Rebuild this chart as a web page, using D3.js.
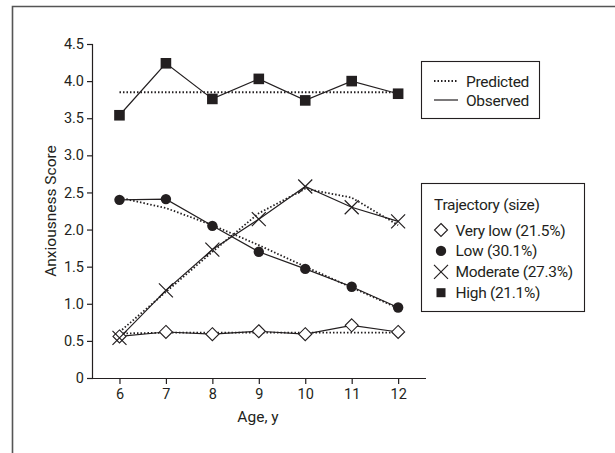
<!DOCTYPE html>
<html>
<head>
<meta charset="utf-8">
<script src="https://cdn.jsdelivr.net/npm/d3@7"></script>
<style>
body { margin: 0; background: #fff; }
text { font-family: Roboto, "DejaVu Sans Condensed", sans-serif; fill: #231f20; }
</style>
</head>
<body>
<svg id="chart"></svg>
<script>
// data
var ages = [6, 7, 8, 9, 10, 11, 12];
var yTicks = [0, 0.5, 1.0, 1.5, 2.0, 2.5, 3.0, 3.5, 4.0, 4.5];

var veryLowObs = [0.56, 0.62, 0.59, 0.63, 0.59, 0.71, 0.62];
var veryLowPred = [0.60, 0.61, 0.61, 0.61, 0.61, 0.61, 0.61];
var lowObs = [2.40, 2.41, 2.05, 1.70, 1.47, 1.23, 0.95];
var lowPred = [2.43, 2.29, 2.06, 1.79, 1.50, 1.22, 0.94];
var modObs = [0.54, 1.18, 1.73, 2.14, 2.58, 2.30, 2.11];
var modPred = [0.62, 1.16, 1.70, 2.22, 2.55, 2.43, 2.06];
var highObs = [3.54, 4.24, 3.76, 4.03, 3.74, 4.00, 3.83];
var highPred = [3.85, 3.85, 3.85, 3.85, 3.85, 3.85, 3.85];

var groups = [
  { name: "Very low (21.5%)", sym: "diamond", obs: veryLowObs, pred: veryLowPred },
  { name: "Low (30.1%)", sym: "circle", obs: lowObs, pred: lowPred },
  { name: "Moderate (27.3%)", sym: "cross", obs: modObs, pred: modPred },
  { name: "High (21.1%)", sym: "square", obs: highObs, pred: highPred }
];

// basic settings
var svgWidth = 615, svgHeight = 453;
var ink = "#231f20";
var plotLeft = 93, plotRight = 426, plotTop = 44, plotBottom = 378;

var svg = d3.select('#chart')
  .attr('width', svgWidth)
  .attr('height', svgHeight);

// frame (right and bottom edges fall outside the picture)
svg.append('path')
  .attr('d', "M12.5," + svgHeight + "V6.5H" + svgWidth)
  .attr('fill', 'none')
  .attr('stroke', '#555')
  .attr('stroke-width', 1.6);

var x = d3.scaleLinear().domain([5.43, 12.6]).range([plotLeft, plotRight]);
var y = d3.scaleLinear().domain([0, 4.5]).range([plotBottom, plotTop]);

var yAxis = d3.axisLeft(y)
  .tickValues(yTicks)
  .tickSize(6)
  .tickPadding(3)
  .tickFormat(function(d) { return d === 0 ? "0" : d3.format(".1f")(d); });

var xAxis = d3.axisBottom(x)
  .tickValues(ages)
  .tickSize(6)
  .tickPadding(5)
  .tickSizeOuter(0);

var gy = svg.append('g')
  .attr('transform', "translate(" + plotLeft + ",0)")
  .call(yAxis);
gy.select('.domain').attr('d', "M-0.5," + (plotBottom + 0.5) + "V" + plotTop);

var gx = svg.append('g')
  .attr('transform', "translate(0," + plotBottom + ")")
  .call(xAxis);
gx.select('.domain').attr('d', "M" + plotLeft + ",0.5H" + plotRight);

svg.selectAll('.tick text')
  .attr('font-size', 14.5)
  .attr('fill', ink)
  .style('font-family', 'Roboto, sans-serif');
svg.selectAll('.domain, .tick line')
  .attr('stroke', ink)
  .attr('stroke-width', 1.2);

// axis titles
svg.append('text')
  .attr('x', 258)
  .attr('y', 422)
  .attr('text-anchor', 'middle')
  .attr('font-size', 15.5)
  .text("Age, y");

svg.append('text')
  .attr('transform', "translate(56," + ((plotTop + plotBottom) / 2) + ") rotate(-90)")
  .attr('text-anchor', 'middle')
  .attr('font-size', 15.5)
  .text("Anxiousness Score");

// lines
var line = d3.line()
  .x(function(d, i) { return x(ages[i]); })
  .y(function(d) { return y(d); });

groups.forEach(function(g) {
  svg.append('path')
    .attr('d', line(g.pred))
    .attr('fill', 'none')
    .attr('stroke', ink)
    .attr('stroke-width', 1.8)
    .attr('stroke-dasharray', "1.5,2");
  svg.append('path')
    .attr('d', line(g.obs))
    .attr('fill', 'none')
    .attr('stroke', ink)
    .attr('stroke-width', 1.2);
});

// markers
function drawSymbol(sel, sym) {
  if (sym === "diamond") {
    sel.append('path')
      .attr('d', "M0,-6.5L6.5,0L0,6.5L-6.5,0Z")
      .attr('fill', '#fff').attr('stroke', ink).attr('stroke-width', 1.1);
  } else if (sym === "circle") {
    sel.append('circle').attr('r', 5.2).attr('fill', ink);
  } else if (sym === "cross") {
    sel.append('path')
      .attr('d', "M-7,-7L7,7M7,-7L-7,7")
      .attr('stroke', ink).attr('stroke-width', 1.2).attr('fill', 'none');
  } else {
    sel.append('rect')
      .attr('x', -5.3).attr('y', -5.3).attr('width', 10.6).attr('height', 10.6)
      .attr('fill', ink);
  }
}

groups.forEach(function(g) {
  svg.append('g').selectAll('g')
    .data(g.obs)
    .enter()
    .append('g')
    .attr('transform', function(d, i) {
      return "translate(" + [x(ages[i]), y(d)] + ")";
    })
    .each(function() { drawSymbol(d3.select(this), g.sym); });
});

// legend 1: line styles
var leg1 = svg.append('g').attr('transform', "translate(421,61)");
leg1.append('rect')
  .attr('x', 0.5).attr('y', 0.5).attr('width', 118).attr('height', 57)
  .attr('fill', '#fff').attr('stroke', ink).attr('stroke-width', 1.1);
[["Predicted", "1.5,2", 1.8], ["Observed", null, 1.2]].forEach(function(r, i) {
  var yy = 20 + i * 19;
  leg1.append('line')
    .attr('x1', 13).attr('x2', 37).attr('y1', yy).attr('y2', yy)
    .attr('stroke', ink).attr('stroke-width', r[2])
    .attr('stroke-dasharray', r[1]);
  leg1.append('text')
    .attr('x', 45).attr('y', yy + 5.5)
    .attr('font-size', 15.5)
    .attr('letter-spacing', -0.3)
    .text(r[0]);
});

// legend 2: trajectories
var leg2 = svg.append('g').attr('transform', "translate(421,183)");
leg2.append('rect')
  .attr('x', 0.5).attr('y', 0.5).attr('width', 163).attr('height', 128)
  .attr('fill', '#fff').attr('stroke', ink).attr('stroke-width', 1.1);
leg2.append('text')
  .attr('x', 13).attr('y', 27)
  .attr('font-size', 15.5)
  .attr('letter-spacing', -0.3)
  .text("Trajectory (size)");
groups.forEach(function(g, i) {
  var yy = 47 + i * 20.9;
  var s = leg2.append('g').attr('transform', "translate(20," + yy + ")");
  drawSymbol(s, g.sym);
  if (g.sym === "square") s.select('rect').attr('transform', 'scale(0.85)');
  leg2.append('text')
    .attr('x', 34.5).attr('y', yy + 5.5)
    .attr('font-size', 15.5)
    .attr('letter-spacing', -0.3)
    .text(g.name);
});
</script>
</body>
</html>
